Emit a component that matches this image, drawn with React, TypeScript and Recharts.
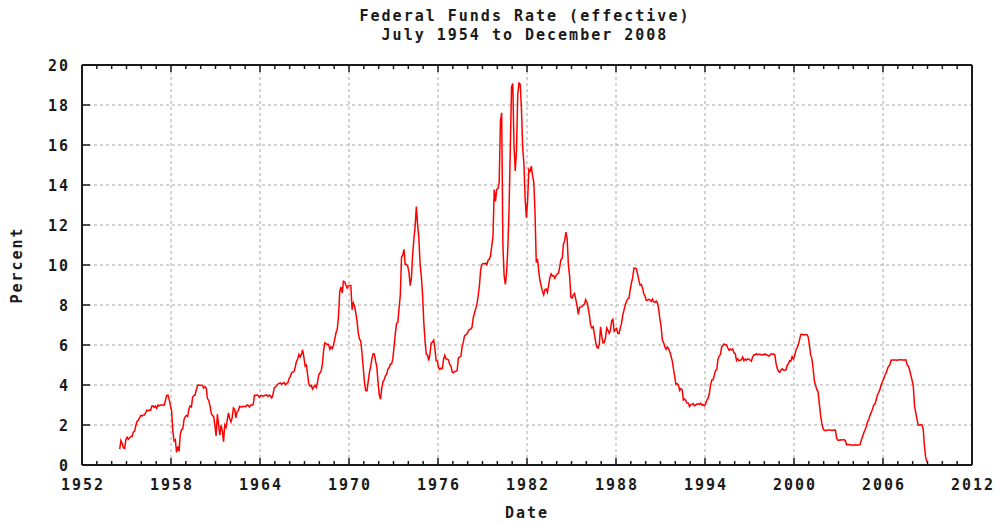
import { LineChart, Line, XAxis, YAxis, CartesianGrid } from "recharts";

// effective federal funds rate, monthly, starting July 1954
const startYear = 1954;
const startMonth = 7;

const rates1950s = [
  0.8, 1.22, 1.07, 0.85, 0.83, 1.28, // 1954 Jul-Dec
  1.39, 1.29, 1.35, 1.43, 1.43, 1.64, 1.68, 1.96, 2.18, 2.24, 2.35, 2.48, // 1955
  2.45, 2.5, 2.5, 2.62, 2.75, 2.71, 2.75, 2.73, 2.95, 2.96, 2.88, 2.94, // 1956
  2.84, 3.0, 2.96, 3.0, 3.0, 3.0, 2.99, 3.24, 3.47, 3.5, 3.28, 2.98, // 1957
  2.72, 1.67, 1.2, 1.26, 0.63, 0.93, 0.68, 1.53, 1.76, 1.8, 2.27, 2.42, // 1958
  2.48, 2.43, 2.8, 2.96, 2.9, 3.39, 3.47, 3.5, 3.76, 3.98, 4.0, 3.99, // 1959
];

const rates1960s = [
  3.99, 3.97, 3.84, 3.92, 3.85, 3.32, 3.23, 2.98, 2.6, 2.47, 2.44, 1.98, // 1960
  1.45, 2.54, 2.02, 1.49, 1.98, 1.73, 1.17, 2.0, 1.88, 2.26, 2.61, 2.33, // 1961
  2.15, 2.37, 2.85, 2.78, 2.36, 2.68, 2.71, 2.93, 2.9, 2.9, 2.94, 2.93, // 1962
  2.92, 3.0, 2.98, 2.9, 3.0, 2.99, 3.02, 3.49, 3.48, 3.5, 3.48, 3.38, // 1963
  3.48, 3.48, 3.43, 3.47, 3.5, 3.5, 3.42, 3.5, 3.45, 3.36, 3.52, 3.85, // 1964
  3.9, 3.98, 4.04, 4.09, 4.1, 4.04, 4.09, 4.12, 4.01, 4.08, 4.1, 4.32, // 1965
  4.42, 4.6, 4.65, 4.67, 4.9, 5.17, 5.3, 5.53, 5.4, 5.53, 5.76, 5.4, // 1966
  4.94, 5.0, 4.53, 4.05, 3.94, 3.98, 3.79, 3.9, 3.99, 3.88, 4.13, 4.51, // 1967
  4.6, 4.71, 5.05, 5.76, 6.11, 6.07, 6.02, 6.03, 5.78, 5.91, 5.82, 6.02, // 1968
  6.3, 6.61, 6.79, 7.41, 8.67, 8.9, 8.61, 9.19, 9.15, 9.0, 8.85, 8.97, // 1969
];

const rates1970s = [
  8.98, 8.98, 7.76, 8.1, 7.95, 7.61, 7.21, 6.61, 6.29, 6.2, 5.6, 4.9, // 1970
  4.14, 3.72, 3.71, 4.16, 4.63, 4.91, 5.31, 5.56, 5.55, 5.2, 4.91, 4.14, // 1971
  3.5, 3.29, 3.83, 4.17, 4.27, 4.46, 4.55, 4.8, 4.87, 5.04, 5.06, 5.33, // 1972
  5.94, 6.58, 7.09, 7.12, 7.84, 8.49, 10.4, 10.5, 10.78, 10.01, 10.03, 9.95, // 1973
  9.65, 8.97, 9.35, 10.51, 11.31, 11.93, 12.92, 12.01, 11.34, 10.06, 9.45, 8.53, // 1974
  7.13, 6.24, 5.54, 5.49, 5.22, 5.55, 6.1, 6.14, 6.24, 5.82, 5.22, 5.2, // 1975
  4.87, 4.77, 4.84, 4.82, 5.29, 5.48, 5.31, 5.29, 5.25, 5.02, 4.95, 4.65, // 1976
  4.61, 4.68, 4.69, 4.73, 5.35, 5.39, 5.42, 5.9, 6.14, 6.47, 6.51, 6.56, // 1977
  6.7, 6.78, 6.79, 6.89, 7.36, 7.6, 7.81, 8.04, 8.45, 8.96, 9.76, 10.03, // 1978
  10.07, 10.06, 10.09, 10.01, 10.24, 10.29, 10.47, 10.94, 11.43, 13.77, 13.18, 13.78, // 1979
];

const rates1980s = [
  13.82, 14.13, 17.19, 17.61, 10.98, 9.47, 9.03, 9.61, 10.87, 12.81, 15.85, 18.9, // 1980
  19.08, 15.93, 14.7, 15.72, 18.52, 19.1, 19.04, 17.82, 15.87, 15.08, 13.31, 12.37, // 1981
  13.22, 14.78, 14.68, 14.94, 14.45, 14.15, 12.59, 10.12, 10.31, 9.71, 9.2, 8.95, // 1982
  8.68, 8.51, 8.77, 8.8, 8.63, 8.98, 9.37, 9.56, 9.45, 9.48, 9.34, 9.47, // 1983
  9.56, 9.59, 9.91, 10.29, 10.32, 11.06, 11.23, 11.64, 11.3, 9.99, 9.43, 8.38, // 1984
  8.35, 8.5, 8.58, 8.27, 7.97, 7.53, 7.88, 7.9, 7.92, 7.99, 8.05, 8.27, // 1985
  8.14, 7.86, 7.48, 6.99, 6.85, 6.92, 6.56, 6.17, 5.89, 5.85, 6.04, 6.91, // 1986
  6.43, 6.1, 6.13, 6.37, 6.85, 6.73, 6.58, 6.73, 7.22, 7.29, 6.69, 6.77, // 1987
  6.83, 6.58, 6.58, 6.87, 7.09, 7.51, 7.75, 8.01, 8.19, 8.3, 8.35, 8.76, // 1988
  9.12, 9.36, 9.85, 9.84, 9.81, 9.53, 9.24, 8.99, 9.02, 8.84, 8.55, 8.45, // 1989
];

const rates1990s = [
  8.23, 8.24, 8.28, 8.26, 8.18, 8.29, 8.15, 8.13, 8.2, 8.11, 7.81, 7.31, // 1990
  6.91, 6.25, 6.12, 5.91, 5.78, 5.9, 5.82, 5.66, 5.45, 5.21, 4.81, 4.43, // 1991
  4.03, 4.06, 3.98, 3.73, 3.82, 3.76, 3.25, 3.3, 3.22, 3.1, 3.09, 2.92, // 1992
  3.02, 3.03, 3.07, 2.96, 3.0, 3.04, 3.06, 3.03, 3.09, 2.99, 3.02, 2.96, // 1993
  3.05, 3.25, 3.34, 3.56, 4.01, 4.25, 4.26, 4.47, 4.73, 4.76, 5.29, 5.45, // 1994
  5.53, 5.92, 5.98, 6.05, 6.01, 6.0, 5.85, 5.74, 5.8, 5.76, 5.8, 5.6, // 1995
  5.56, 5.22, 5.31, 5.22, 5.24, 5.27, 5.4, 5.22, 5.3, 5.24, 5.31, 5.29, // 1996
  5.25, 5.19, 5.39, 5.51, 5.5, 5.56, 5.52, 5.54, 5.54, 5.5, 5.52, 5.5, // 1997
  5.56, 5.51, 5.49, 5.45, 5.49, 5.56, 5.54, 5.55, 5.51, 5.07, 4.83, 4.68, // 1998
  4.63, 4.76, 4.81, 4.74, 4.74, 4.76, 4.99, 5.07, 5.22, 5.2, 5.42, 5.3, // 1999
];

const rates2000s = [
  5.45, 5.73, 5.85, 6.02, 6.27, 6.53, 6.54, 6.5, 6.52, 6.51, 6.51, 6.4, // 2000
  5.98, 5.49, 5.31, 4.8, 4.21, 3.97, 3.77, 3.65, 3.07, 2.49, 2.09, 1.82, // 2001
  1.73, 1.74, 1.73, 1.75, 1.75, 1.75, 1.73, 1.74, 1.75, 1.75, 1.34, 1.24, // 2002
  1.24, 1.26, 1.25, 1.26, 1.26, 1.22, 1.01, 1.03, 1.01, 1.01, 1.0, 0.98, // 2003
  1.0, 1.01, 1.0, 1.0, 1.0, 1.03, 1.26, 1.43, 1.61, 1.76, 1.93, 2.16, // 2004
  2.28, 2.5, 2.63, 2.79, 3.0, 3.04, 3.26, 3.5, 3.62, 3.78, 4.0, 4.16, // 2005
  4.29, 4.49, 4.59, 4.79, 4.94, 4.99, 5.24, 5.25, 5.25, 5.25, 5.25, 5.24, // 2006
  5.25, 5.26, 5.26, 5.25, 5.25, 5.25, 5.26, 5.02, 4.94, 4.76, 4.49, 4.24, // 2007
  3.94, 2.98, 2.61, 2.28, 1.98, 2.0, 2.01, 2.0, 1.81, 0.97, 0.39, 0.16, // 2008
];

const majorYears = [1952, 1958, 1964, 1970, 1976, 1982, 1988, 1994, 2000, 2006, 2012];
const allYears = Array.from({ length: 61 }, (_, i) => 1952 + i);
const percentTicks = [0, 2, 4, 6, 8, 10, 12, 14, 16, 18, 20];

const data = [...rates1950s, ...rates1960s, ...rates1970s, ...rates1980s, ...rates1990s, ...rates2000s].map(
  (rate, i) => ({ date: startYear + (startMonth - 1 + i + 0.5) / 12, rate })
);

const font = {
  fontFamily: "'DejaVu Sans Mono', monospace",
  fontWeight: 700,
  fontSize: 15,
  letterSpacing: 2,
};
const ink = "#1a1a1a";

function BottomTick({ x, y, payload }: any) {
  const major = majorYears.includes(payload.value);
  return (
    <g>
      <line x1={x} y1={y} x2={x} y2={y - (major ? 7 : 4)} stroke={ink} strokeWidth={1.5} />
      {major && (
        <text x={x} y={y + 25} dx={1} textAnchor="middle" fill={ink} style={font}>
          {payload.value}
        </text>
      )}
    </g>
  );
}

function TopTick({ x, y, payload }: any) {
  const major = majorYears.includes(payload.value);
  return <line x1={x} y1={y} x2={x} y2={y + (major ? 7 : 4)} stroke={ink} strokeWidth={1.5} />;
}

function LeftTick({ x, y, payload }: any) {
  return (
    <g>
      <line x1={x} y1={y} x2={x + 8} y2={y} stroke={ink} strokeWidth={1.5} />
      <text x={x - 12} y={y + 5.5} textAnchor="end" fill={ink} style={font}>
        {payload.value}
      </text>
    </g>
  );
}

function RightTick({ x, y }: any) {
  return <line x1={x} y1={y} x2={x - 8} y2={y} stroke={ink} strokeWidth={1.5} />;
}

const border = { stroke: ink, strokeWidth: 2 };

export default function App() {
  return (
    <div style={{ position: "absolute", left: 0, top: 0, width: 996, height: 525, background: "#fff" }}>
      <div
        style={{
          ...font,
          position: "absolute",
          left: 325,
          top: 7,
          width: 400,
          lineHeight: "19px",
          textAlign: "center",
          color: ink,
        }}
      >
        <div>Federal Funds Rate (effective)</div>
        <div>July 1954 to December 2008</div>
      </div>
      <div
        style={{ ...font, position: "absolute", left: 427, top: 504, width: 200, lineHeight: "19px", textAlign: "center", color: ink }}
      >
        Date
      </div>
      <div
        style={{
          ...font,
          position: "absolute",
          left: -33,
          top: 255,
          width: 100,
          lineHeight: "20px",
          textAlign: "center",
          color: ink,
          transform: "rotate(-90deg)",
        }}
      >
        Percent
      </div>
      <LineChart width={996} height={525} data={data} margin={{ top: 60, right: 19, bottom: 30, left: 22 }}>
        <XAxis xAxisId="grid" type="number" dataKey="date" domain={[1952, 2012]} ticks={majorYears} hide />
        <CartesianGrid xAxisId="grid" yAxisId="left" stroke="#a8a8a8" strokeDasharray="3 3" />
        <XAxis
          xAxisId="bottom"
          type="number"
          dataKey="date"
          domain={[1952, 2012]}
          ticks={allYears}
          interval={0}
          height={30}
          tickSize={0}
          tickMargin={0}
          tickLine={false}
          axisLine={border}
          tick={<BottomTick />}
        />
        <XAxis
          xAxisId="top"
          orientation="top"
          type="number"
          dataKey="date"
          domain={[1952, 2012]}
          ticks={allYears}
          interval={0}
          height={5}
          tickSize={0}
          tickMargin={0}
          tickLine={false}
          axisLine={border}
          tick={<TopTick />}
        />
        <YAxis
          yAxisId="left"
          type="number"
          domain={[0, 20]}
          ticks={percentTicks}
          interval={0}
          width={60}
          tickSize={0}
          tickMargin={0}
          tickLine={false}
          axisLine={border}
          tick={<LeftTick />}
        />
        <YAxis
          yAxisId="right"
          orientation="right"
          type="number"
          domain={[0, 20]}
          ticks={percentTicks}
          interval={0}
          width={5}
          tickSize={0}
          tickMargin={0}
          tickLine={false}
          axisLine={border}
          tick={<RightTick />}
        />
        <Line
          xAxisId="bottom"
          yAxisId="left"
          type="linear"
          dataKey="rate"
          stroke="#ff0000"
          strokeWidth={1.5}
          dot={false}
          activeDot={false}
          isAnimationActive={false}
        />
      </LineChart>
    </div>
  );
}
